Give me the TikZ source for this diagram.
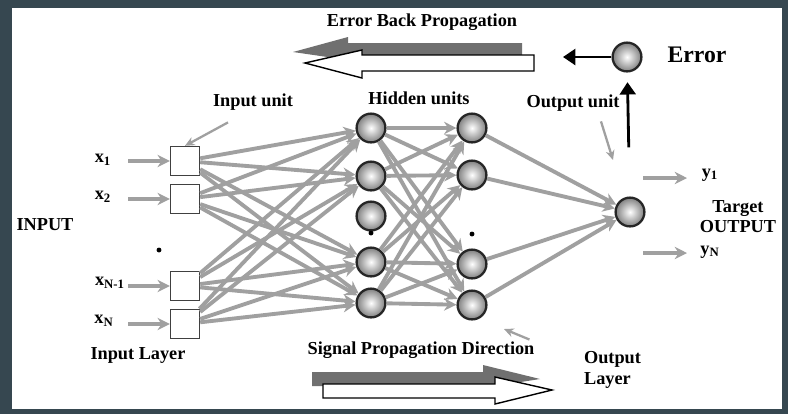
\documentclass[tikz,border=0pt]{standalone}
\usepackage{fontspec}
\setmainfont{Liberation Serif}
\usetikzlibrary{arrows.meta}
\definecolor{marco}{RGB}{54,71,80}
\definecolor{gris}{RGB}{160,160,160}
\definecolor{grisosc}{RGB}{112,112,112}
\tikzset{
  unidad/.style={circle,draw=black!85,line width=1.3pt,inner color=white,outer color=black!50,minimum size=16.4pt,inner sep=0pt},
  caja/.style={draw=black!75,line width=0.9pt,fill=white,minimum size=16.4pt,inner sep=0pt},
  flecha/.style={draw=gris,line width=2.2pt,-{Stealth[length=7pt,width=7pt]}},
  puntero/.style={draw=gris,line width=1.3pt,-{Stealth[length=5.5pt,width=5pt]}},
  negra/.style={draw=black,line width=1.6pt,-{Triangle[length=7pt,width=9pt]}},
  etiqueta/.style={font=\bfseries\fontsize{10.4}{12}\selectfont,inner sep=1pt},
}
\begin{document}
\begin{tikzpicture}[x=0.02cm,y=-0.02cm]
%\draw[help lines](0,0) grid (788,414);
\fill[marco] (0,0) rectangle (788,414); % marco
\fill[white] (12,8) rectangle (782,409); % fondo

\node[caja] (i1) at (185,161) {}; % entrada 1
\node[caja] (i2) at (185,199) {}; % entrada 2
\node[caja] (i3) at (185,286) {}; % entrada N-1
\node[caja] (i4) at (185,324) {}; % entrada N

\foreach \n/\y in {1/128,2/176,3/216,4/262,5/303}
  \node[unidad] (h\n) at (371,\y) {}; % ocultas 1
\foreach \n/\y in {1/128,2/175,3/264,4/305}
  \node[unidad] (g\n) at (472,\y) {}; % ocultas 2

\node[unidad] (out) at (630,212) {}; % salida
\node[unidad] (err) at (627,57) {}; % error

\fill (159,250) circle (1.4pt); % puntos
\fill (371,233) circle (1.4pt);
\fill (472,234) circle (1.4pt);

\foreach \a in {1,...,4}
  \foreach \b in {1,2,4,5}
    \draw[flecha] (i\a) -- (h\b); % entrada a ocultas
\foreach \a in {1,2,4,5}
  \foreach \b in {1,...,4}
    \draw[flecha] (h\a) -- (g\b); % ocultas a ocultas
\foreach \a in {1,...,4}
  \draw[flecha] (g\a) -- (out); % ocultas a salida

\node[etiqueta] (x1) at (103,160) {x\textsubscript{1}};
\node[etiqueta] (x2) at (103,197) {x\textsubscript{2}};
\node[etiqueta] (x3) at (110,283) {x\textsubscript{N-1}};
\node[etiqueta] (x4) at (104,321) {x\textsubscript{N}};
\foreach \n/\y in {1/161,2/199,3/286,4/324}{
  \coordinate (a\n) at (128,\y);
  \draw[flecha] (a\n) -- (i\n); % flechas entrada
}

\coordinate (b1) at (643,178);
\coordinate (c1) at (687,178);
\coordinate (b2) at (643,253);
\coordinate (c2) at (687,253);
\draw[flecha] (b1) -- (c1); % y1
\draw[flecha] (b2) -- (c2); % yN
\node[etiqueta] (y1) at (710,175) {y\textsubscript{1}};
\node[etiqueta] (y2) at (710,252) {y\textsubscript{N}};

\coordinate (e1) at (563,57);
\draw[negra] (err) -- (e1); % error a la izquierda
\draw[negra,shorten <=28pt,shorten >=5.5pt] (out) -- (err); % salida a error

\node[etiqueta] (tBack) at (422,22) {Error Back Propagation};
\node[etiqueta,font=\bfseries\fontsize{13.5}{15}\selectfont] (tErr) at (697,55) {Error};
\node[etiqueta] (tIn) at (253,102) {Input unit};
\node[etiqueta] (tHid) at (419,98) {Hidden units};
\node[etiqueta] (tOut) at (573,103) {Output unit};
\node[etiqueta] (tINPUT) at (45,225) {INPUT};
\node[etiqueta] (tLayer) at (138,355) {Input Layer};
\node[etiqueta] (tSig) at (421,350) {Signal Propagation Direction};
\node[etiqueta,align=left,anchor=west] (tOL) at (582,370) {Output\\Layer};
\node[etiqueta,align=center,font=\bfseries\fontsize{10.4}{11.4}\selectfont] (tTarget) at (738,217) {Target\\OUTPUT};

\coordinate (p1) at (613,160);
\coordinate (p3) at (504,329);
\draw[puntero] (tIn.south) ++(-25,10) -- (i1.north); % puntero input unit
\draw[puntero] (tOut.south) ++(28,8) -- (p1); % puntero output unit
\draw[puntero] (tSig.north east) ++(-7,0) -- (p3); % puntero capa salida

% flechas grandes arriba
\fill[grisosc] (522,43) -- (348,43) -- (348,37) -- (293,52) -- (348,60) -- (348,56) -- (522,56) -- cycle;
\filldraw[fill=white,draw=black,line width=0.8pt] (534,55) -- (362,55) -- (362,50) -- (305,63) -- (362,78) -- (362,71) -- (534,71) -- cycle;

% flechas grandes abajo
\fill[grisosc] (312,372) -- (483,372) -- (483,365) -- (540,379) -- (495,386) -- (312,386) -- cycle;
\filldraw[fill=white,draw=black,line width=0.8pt] (323,384) -- (495,384) -- (495,377) -- (552,390) -- (495,404) -- (495,398) -- (323,398) -- cycle;

\end{tikzpicture}
\end{document}
